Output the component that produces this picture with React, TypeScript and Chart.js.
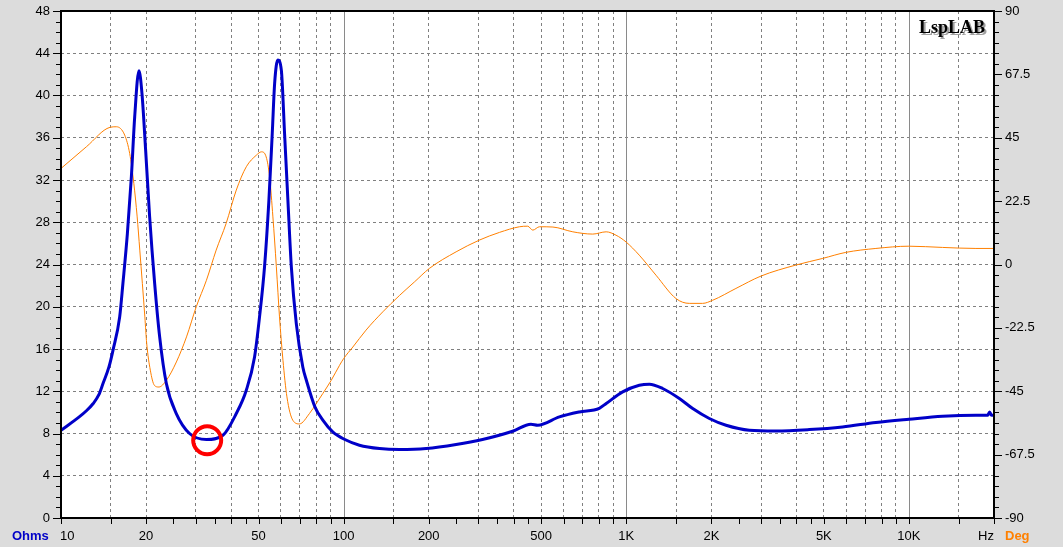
import { useEffect, useRef } from "react";
import { Chart, registerables } from "chart.js";

Chart.register(...registerables);

// ---- Data ----
const impFreq = [
  10, 11.6, 12.3, 13.0, 13.6, 14.08, 14.78, 15.28, 16.13, 16.56, 17.17, 17.74, 18.23, 18.87, 19.34, 19.93, 20.59, 21.45, 22.34,
  23.59, 25.58, 28.5, 32.7, 37.4, 41.7, 45.25, 48.4, 50.4, 52.5, 54.4, 55.9, 57.0, 58.5, 60.2, 61.8, 63.5,
  65.3, 68.0, 71.7, 73.8, 79.2, 84.4, 91.5, 101, 113.7, 134, 157.6, 196, 250, 310, 396, 460, 486, 580, 682, 803, 849,
  971, 1112, 1207, 1345, 1541, 1718, 1967, 2254, 2725, 3386, 4440, 5820, 7640, 10000, 13150, 17260, 19000,
  19300, 19600, 20000,
];
const impOhms = [
  8.3, 9.57, 10.15, 10.84, 11.65, 12.73, 14.3, 15.9, 19.04, 22.2, 26.9, 32.3, 38.0, 42.35, 40.2, 34.8, 28.5, 22.2, 17.15,
  12.73, 9.89, 8.0, 7.43, 7.83, 9.89, 12.1, 15.25, 19.04, 23.8, 30.1, 36.4, 41.15, 43.36, 42.4, 36.4, 30.1,
  23.8, 18.4, 14.3, 13.04, 10.5, 9.26, 8.15, 7.43, 6.89, 6.57, 6.48, 6.57, 6.95, 7.43, 8.21, 8.88, 8.78, 9.57, 10.04, 10.39, 10.84,
  11.94, 12.57, 12.67, 12.26, 11.31, 10.36, 9.42, 8.78, 8.31, 8.24, 8.37, 8.62, 9.04, 9.35, 9.63, 9.73, 9.73,
  10.04, 9.73, 9.73,
];

const phaseFreq = [
  10, 12.3, 14.9, 15.7, 16.8, 17.5, 18.1, 18.6, 19.0, 19.4, 19.8, 20.1, 20.7, 21.4, 22.2, 23.6, 25.6, 27.8,
  30.1, 32.7, 35.4, 38.4, 41.7, 45.25, 49.1, 51.2, 53.2, 54.7, 56.2, 57.8, 59.3, 61.0, 63.0, 66.1, 69.8,
  75.7, 80.0, 84.4, 90.4, 96.7, 100, 107.8, 120, 137.6, 157.6, 178, 201, 250, 302, 356, 419, 448, 467, 493, 550, 647, 761,
  849, 920, 998, 1112, 1274, 1500, 1671, 1862, 2021, 2443, 2997, 3980, 4950, 5980, 7640, 10000, 13150,
  17260, 20000,
];
const phaseDeg = [
  34.1, 41.8, 48.7, 48.9, 45.95, 39.4, 28.8, 16.9, 5.1, -6.7, -18.6, -28.0, -37.5, -42.9, -43.5, -41.1, -34.6, -25.7,
  -15.0, -5.6, 5.1, 14.6, 26.4, 34.7, 38.8, 40.0, 38.2, 31.1, 16.9, -0.8, -18.6, -34.0, -47.0, -55.3, -56.6,
  -52.9, -49.4, -45.8, -41.1, -35.8, -33.4, -29.3, -23.3, -16.8, -11.0, -6.2, -1.4, 4.5, 8.65, 11.4, 13.4, 13.6, 12.2, 13.4, 13.3, 11.6, 10.8,
  11.6, 10.4, 8.0, 3.3, -3.8, -12.1, -13.8, -13.8, -12.7, -8.5, -4.1, -0.2, 2.15, 4.3, 5.7, 6.5, 6.06,
  5.7, 5.7,
];

const markerFreq = [32.9];
const markerOhms = [7.36];

// ---- Axes ----
const xMin = 10;
const xMax = 20000;
const xMantissas = [1, 1.5, 2, 2.5, 3, 3.5, 4, 4.5, 5, 6, 7, 8, 9];
const xDecades = [10, 100, 1000, 10000];
const xNoGridMantissas = [2.5, 3.5, 4.5];
const xDecadeLines = [100, 1000, 10000];
const xLabelValues = [10, 20, 50, 100, 200, 500, 1000, 2000, 5000, 10000];
const xLabelTexts = ["10", "20", "50", "100", "200", "500", "1K", "2K", "5K", "10K"];
const xUnitLabel = "Hz";

const ohmMin = 0;
const ohmMax = 48;
const ohmMinorStep = 1;
const ohmLabelValues = [0, 4, 8, 12, 16, 20, 24, 28, 32, 36, 40, 44, 48];

const degMin = -90;
const degMax = 90;
const degMinorStep = 3.75;
const degLabelValues = [-90, -67.5, -45, -22.5, 0, 22.5, 45, 67.5, 90];
const degLabelTexts = ["-90", "-67.5", "-45", "-22.5", "0", "22.5", "45", "67.5", "90"];

const BG = "#dcdcdc";
const BLUE = "#0000c8";
const ORANGE = "#ff8000";
const GRID = "#808080";
const FONT = "'Liberation Sans', Arial, Helvetica, sans-serif";
const LABEL_BASELINE = 540;
const AREA = { left: 61, top: 11, right: 994, bottom: 518 };

const near = (a: number, b: number) => Math.abs(a - b) < 1e-6 * Math.max(1, Math.abs(b));
const inList = (v: number, arr: number[]) => arr.some((x) => near(v, x));

const xTickValues: number[] = [];
const xNoGrid: number[] = [];
for (const d of xDecades) {
  for (const m of xMantissas) {
    const v = Math.round(m * d * 1000) / 1000;
    if (v >= xMin && v <= xMax) {
      xTickValues.push(v);
      if (xNoGridMantissas.includes(m)) xNoGrid.push(v);
    }
  }
}

const decor = {
  id: "decor",
  beforeDraw(chart: any) {
    const { ctx, chartArea: a, width, height } = chart;
    ctx.save();
    ctx.fillStyle = BG;
    ctx.fillRect(0, 0, width, height);
    ctx.fillStyle = "#ffffff";
    ctx.fillRect(a.left, a.top, a.right - a.left, a.bottom - a.top);
    ctx.restore();
  },
  beforeDatasetsDraw(chart: any) {
    const { ctx, chartArea: a } = chart;
    const xs = chart.scales.x;
    ctx.save();
    ctx.strokeStyle = "#8a8a8a";
    ctx.lineWidth = 1;
    ctx.beginPath();
    for (const v of xDecadeLines) {
      const px = Math.round(xs.getPixelForValue(v)) + 0.5;
      ctx.moveTo(px, a.top);
      ctx.lineTo(px, a.bottom);
    }
    ctx.stroke();
    ctx.restore();
  },
  afterDraw(chart: any) {
    const { ctx, chartArea: a } = chart;
    const xs = chart.scales.x;
    const yl = chart.scales.y;
    const yr = chart.scales.y1;
    ctx.save();
    // tick marks
    ctx.strokeStyle = "#000";
    ctx.lineWidth = 1;
    ctx.beginPath();
    for (const t of yl.ticks) {
      const py = Math.round(yl.getPixelForValue(t.value)) + 0.5;
      const len = inList(t.value, ohmLabelValues) ? 7 : 4;
      ctx.moveTo(a.left - 1, py);
      ctx.lineTo(a.left - 1 - len, py);
    }
    for (const t of yr.ticks) {
      const py = Math.round(yr.getPixelForValue(t.value)) + 0.5;
      const len = inList(t.value, degLabelValues) ? 7 : 4;
      ctx.moveTo(a.right + 1, py);
      ctx.lineTo(a.right + 1 + len, py);
    }
    for (const t of xs.ticks) {
      const px = Math.round(xs.getPixelForValue(t.value)) + 0.5;
      ctx.moveTo(px, a.bottom + 1);
      ctx.lineTo(px, a.bottom + 6);
    }
    ctx.stroke();
    // frame
    ctx.lineWidth = 2;
    ctx.strokeRect(a.left, a.top, a.right - a.left, a.bottom - a.top);
    // texts
    ctx.textBaseline = "alphabetic";
    ctx.font = `bold 13px ${FONT}`;
    ctx.fillStyle = BLUE;
    ctx.textAlign = "left";
    ctx.fillText("Ohms", 12, LABEL_BASELINE);
    ctx.fillStyle = ORANGE;
    ctx.fillText("Deg", a.right + 11, LABEL_BASELINE);
    ctx.font = `13px ${FONT}`;
    ctx.fillStyle = "#000";
    // first x label is left-aligned at the axis start
    ctx.textAlign = "left";
    ctx.fillText(xLabelTexts[0], xs.getPixelForValue(xLabelValues[0]) - 1, LABEL_BASELINE);
    ctx.textAlign = "right";
    ctx.fillText(xUnitLabel, a.right, LABEL_BASELINE);
    // LspLAB logo
    ctx.font = "bold 18px 'Liberation Serif', 'Times New Roman', serif";
    ctx.textAlign = "right";
    ctx.fillStyle = "#a0a0a0";
    ctx.fillText("LspLAB", a.right - 7, 34.5);
    ctx.fillStyle = "#000";
    ctx.fillText("LspLAB", a.right - 9, 32.5);
    ctx.restore();
  },
};

export default function App() {
  const ref = useRef<HTMLCanvasElement | null>(null);

  useEffect(() => {
    if (!ref.current) return;
    const tickFont = { family: FONT, size: 13 };
    const chart = new Chart(ref.current, {
      type: "line",
      data: {
        datasets: [
          {
            type: "scatter",
            label: "marker",
            data: markerFreq.map((f, i) => ({ x: f, y: markerOhms[i] })),
            yAxisID: "y",
            pointRadius: 14,
            pointHoverRadius: 14,
            pointBorderWidth: 4,
            pointBorderColor: "#ff0000",
            pointBackgroundColor: "rgba(0,0,0,0)",
            borderColor: "#ff0000",
            backgroundColor: "rgba(0,0,0,0)",
            showLine: false,
            order: 0,
          } as any,
          {
            label: "Ohms",
            data: impFreq.map((f, i) => ({ x: f, y: impOhms[i] })),
            yAxisID: "y",
            borderColor: BLUE,
            borderWidth: 3,
            pointRadius: 0,
            cubicInterpolationMode: "monotone",
            fill: false,
            order: 1,
          },
          {
            label: "Deg",
            data: phaseFreq.map((f, i) => ({ x: f, y: phaseDeg[i] })),
            yAxisID: "y1",
            borderColor: ORANGE,
            borderWidth: 1,
            pointRadius: 0,
            cubicInterpolationMode: "monotone",
            fill: false,
            order: 2,
          },
        ],
      },
      options: {
        responsive: false,
        devicePixelRatio: 1,
        animation: false,
        events: [],
        layout: { autoPadding: false, padding: { top: AREA.top, left: 0, right: 0, bottom: 0 } },
        plugins: { legend: { display: false }, tooltip: { enabled: false } },
        scales: {
          x: {
            type: "logarithmic",
            min: xMin,
            max: xMax,
            afterBuildTicks: (s: any) => {
              s.ticks = xTickValues.map((v) => ({ value: v }));
            },
            afterFit: (s: any) => {
              s.height = 547 - AREA.bottom;
              s.paddingLeft = 0;
              s.paddingRight = 0;
            },
            ticks: {
              autoSkip: false,
              maxRotation: 0,
              minRotation: 0,
              padding: 11,
              color: "#000",
              font: tickFont,
              callback: (v: any) => {
                const i = xLabelValues.findIndex((x) => near(Number(v), x));
                return i > 0 ? xLabelTexts[i] : "";
              },
            },
            grid: {
              drawTicks: false,
              lineWidth: 1,
              color: (c: any) => {
                const v = c.tick ? c.tick.value : 0;
                if (inList(v, xNoGrid) || inList(v, xDecadeLines) || near(v, xMin) || near(v, xMax)) return "rgba(0,0,0,0)";
                return GRID;
              },
            },
            border: { display: false, dash: [3, 3] },
          },
          y: {
            type: "linear",
            position: "left",
            min: ohmMin,
            max: ohmMax,
            afterBuildTicks: (s: any) => {
              const t = [];
              for (let v = ohmMin; v <= ohmMax + 1e-9; v += ohmMinorStep) t.push({ value: v });
              s.ticks = t;
            },
            afterFit: (s: any) => {
              s.width = AREA.left;
              s.paddingTop = 0;
              s.paddingBottom = 0;
            },
            ticks: {
              autoSkip: false,
              padding: 11,
              color: "#000",
              font: tickFont,
              callback: (v: any) => (inList(Number(v), ohmLabelValues) ? String(v) : ""),
            },
            grid: {
              drawTicks: false,
              lineWidth: 1,
              color: (c: any) => {
                const v = c.tick ? c.tick.value : 0;
                if (!inList(v, ohmLabelValues) || near(v, ohmMin) || near(v, ohmMax)) return "rgba(0,0,0,0)";
                return GRID;
              },
            },
            border: { display: false, dash: [3, 3] },
          },
          y1: {
            type: "linear",
            position: "right",
            min: degMin,
            max: degMax,
            afterBuildTicks: (s: any) => {
              const t = [];
              const n = Math.round((degMax - degMin) / degMinorStep);
              for (let i = 0; i <= n; i++) t.push({ value: degMin + i * degMinorStep });
              s.ticks = t;
            },
            afterFit: (s: any) => {
              s.width = 1063 - AREA.right;
              s.paddingTop = 0;
              s.paddingBottom = 0;
            },
            ticks: {
              autoSkip: false,
              padding: 11,
              color: "#000",
              font: tickFont,
              callback: (v: any) => {
                const i = degLabelValues.findIndex((x) => near(Number(v), x));
                return i >= 0 ? degLabelTexts[i] : "";
              },
            },
            grid: { display: false, drawTicks: false },
            border: { display: false },
          },
        },
      },
      plugins: [decor],
    } as any);

    return () => chart.destroy();
  }, []);

  return (
    <div style={{ position: "fixed", left: 0, top: 0, width: 1063, height: 547, background: BG }}>
      <canvas ref={ref} width={1063} height={547} style={{ display: "block", width: 1063, height: 547 }} />
    </div>
  );
}
